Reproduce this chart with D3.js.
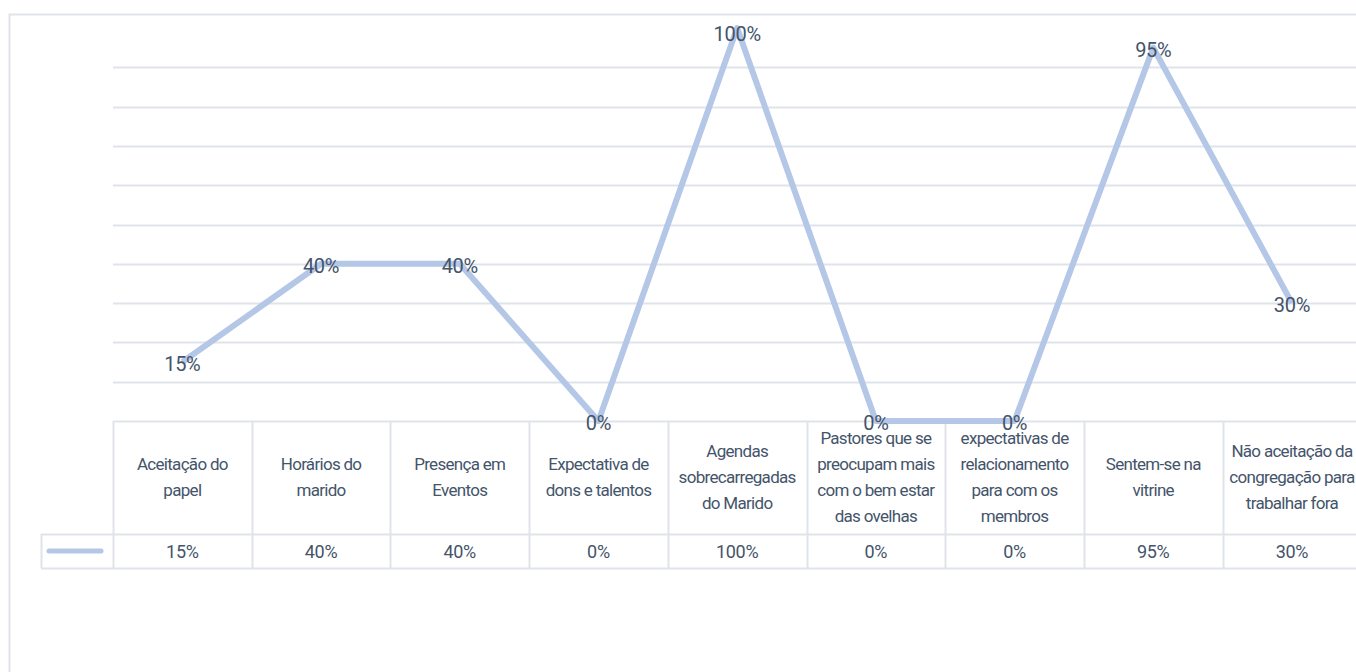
<!DOCTYPE html>
<html>
<head>
<meta charset="utf-8">
<script src="https://cdn.jsdelivr.net/npm/d3@7"></script>
<style>
  body { margin: 0; background: #fff; }
  svg { display: block; }
</style>
</head>
<body>
<div id="chart"></div>
<script>
// categories, one entry per column, with the line breaks of the table header
var categories = [
  ["Aceitação do", "papel"],
  ["Horários do", "marido"],
  ["Presença em", "Eventos"],
  ["Expectativa de", "dons e talentos"],
  ["Agendas", "sobrecarregadas", "do Marido"],
  ["Pastores que se", "preocupam mais", "com o bem estar", "das ovelhas"],
  ["expectativas de", "relacionamento", "para com os", "membros"],
  ["Sentem-se na", "vitrine"],
  ["Não aceitação da", "congregação para", "trabalhar fora"]
];
var values = [0.15, 0.40, 0.40, 0.00, 1.00, 0.00, 0.00, 0.95, 0.30];
var gridTicks = [0, 0.1, 0.2, 0.3, 0.4, 0.5, 0.6, 0.7, 0.8, 0.9];

const width = 1356;
const height = 672;
const textColor = "#44546a";
const lineColor = "#b4c7e7";
const gridColor = "#dfe3ea";
const font = "Roboto, 'Open Sans', sans-serif";

const plotLeft = 113, colW = 138.7;
const plotRight = plotLeft + colW * categories.length;
const plotTop = 28, plotBottom = 421;
const headBottom = 534, rowBottom = 568, legendLeft = 41;

const svg = d3.select("#chart")
  .append("svg")
    .attr("width", width)
    .attr("height", height);

// chart border
svg.append("rect")
    .attr("x", 9.5).attr("y", 14.5)
    .attr("width", width + 20).attr("height", height + 20)
    .attr("fill", "none")
    .attr("stroke", gridColor)
    .attr("stroke-width", 2);

const x = d3.scaleBand()
  .domain(d3.range(categories.length))
  .range([plotLeft, plotRight])
  .padding(0);

const y = d3.scaleLinear()
  .domain([0, 1])
  .range([plotBottom, plotTop]);

// gridlines
svg.append("g")
  .selectAll("line")
  .data(gridTicks.filter(d => d > 0))
  .join("line")
    .attr("x1", plotLeft).attr("x2", width)
    .attr("y1", d => Math.round(y(d)) + 0.5)
    .attr("y2", d => Math.round(y(d)) + 0.5)
    .attr("stroke", gridColor)
    .attr("stroke-width", 2);

// data table grid
const table = svg.append("g")
    .attr("stroke", gridColor)
    .attr("stroke-width", 2);

table.append("line")
    .attr("x1", plotLeft).attr("x2", width)
    .attr("y1", plotBottom + 0.5).attr("y2", plotBottom + 0.5);
table.append("line")
    .attr("x1", legendLeft).attr("x2", width)
    .attr("y1", headBottom + 0.5).attr("y2", headBottom + 0.5);
table.append("line")
    .attr("x1", legendLeft).attr("x2", width)
    .attr("y1", rowBottom + 0.5).attr("y2", rowBottom + 0.5);
table.append("line")
    .attr("x1", legendLeft + 0.5).attr("x2", legendLeft + 0.5)
    .attr("y1", headBottom).attr("y2", rowBottom);
table.selectAll("line.col")
  .data(d3.range(categories.length + 1))
  .join("line")
    .attr("class", "col")
    .attr("x1", i => Math.round(plotLeft + i * colW) + 0.5)
    .attr("x2", i => Math.round(plotLeft + i * colW) + 0.5)
    .attr("y1", plotBottom).attr("y2", rowBottom);

// header labels
svg.append("g")
    .attr("fill", textColor)
    .style("font-family", font)
    .style("font-size", "17px")
    .style("letter-spacing", "-0.7px")
    .attr("text-anchor", "middle")
  .selectAll("text")
  .data(categories)
  .join("text")
    .attr("x", (d, i) => x(i) + x.bandwidth() / 2)
    .attr("y", d => (plotBottom + headBottom) / 2 - (d.length - 1) * 13)
  .selectAll("tspan")
  .data(d => d)
  .join("tspan")
    .attr("x", function () { return this.parentNode.getAttribute("x"); })
    .attr("dy", (d, i) => i === 0 ? "0.35em" : "26px")
    .text(d => d);

// value row
svg.append("g")
    .attr("fill", textColor)
    .style("font-family", font)
    .style("font-size", "18px")
    .style("letter-spacing", "-0.3px")
    .attr("text-anchor", "middle")
  .selectAll("text")
  .data(values)
  .join("text")
    .attr("x", (d, i) => x(i) + x.bandwidth() / 2)
    .attr("y", (headBottom + rowBottom) / 2 + 1)
    .attr("dy", "0.35em")
    .text(d => d3.format(".0%")(d));

// legend key
svg.append("line")
    .attr("x1", 49).attr("x2", 101)
    .attr("y1", 551).attr("y2", 551)
    .attr("stroke", lineColor)
    .attr("stroke-width", 5)
    .attr("stroke-linecap", "round");

// series line
const line = d3.line()
  .x((d, i) => x(i) + x.bandwidth() / 2)
  .y(d => y(d));

svg.append("path")
    .datum(values)
    .attr("d", line)
    .attr("fill", "none")
    .attr("stroke", lineColor)
    .attr("stroke-width", 6)
    .attr("stroke-linejoin", "round");

// data labels, kept inside the chart area at the top
svg.append("g")
    .attr("fill", textColor)
    .style("font-family", font)
    .style("font-size", "20px")
    .style("letter-spacing", "-0.3px")
    .attr("text-anchor", "middle")
  .selectAll("text")
  .data(values)
  .join("text")
    .attr("x", (d, i) => x(i) + x.bandwidth() / 2)
    .attr("y", d => Math.max(y(d) + 2, 34))
    .attr("dy", "0.35em")
    .text(d => d3.format(".0%")(d));
</script>
</body>
</html>
